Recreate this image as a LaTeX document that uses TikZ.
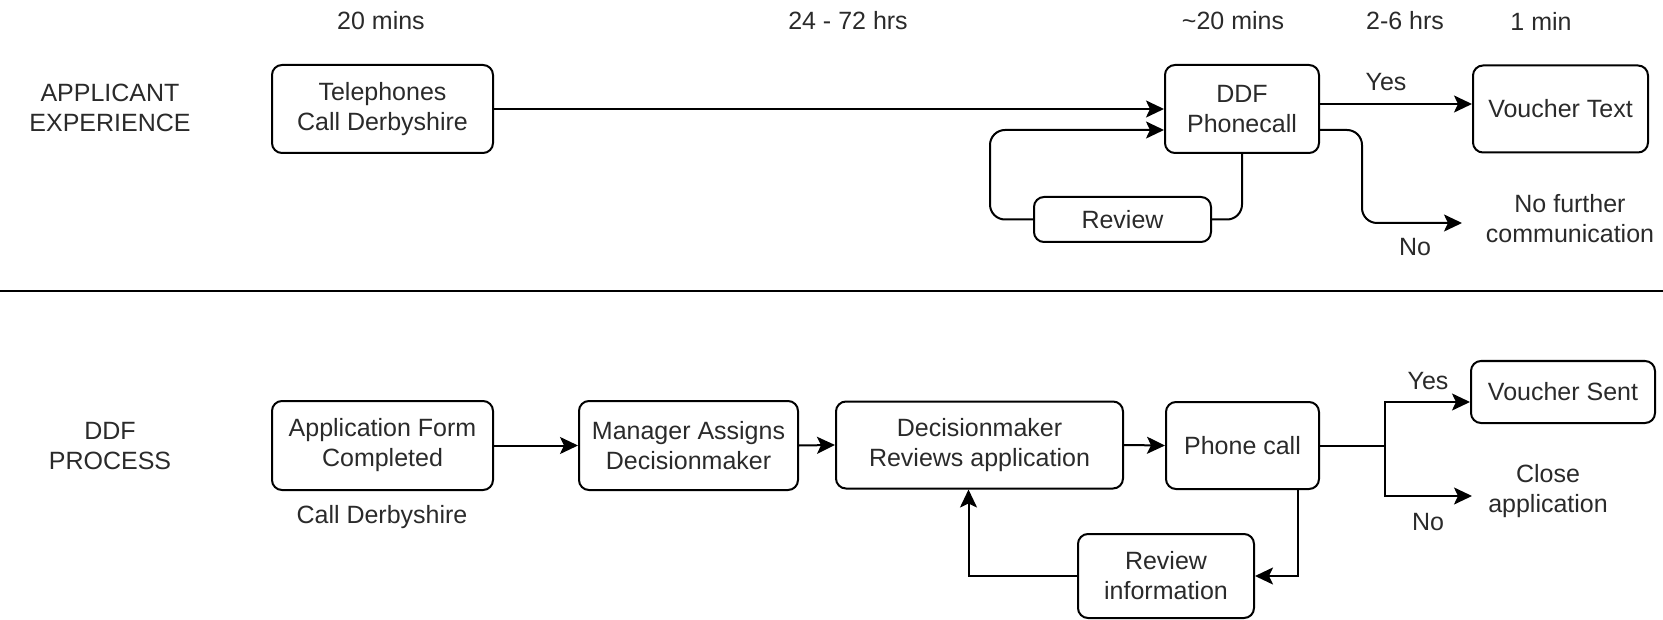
\documentclass[tikz,border=0pt]{standalone}
\usepackage{fontspec}
\setmainfont{Liberation Sans}
\usetikzlibrary{arrows.meta}
\definecolor{txt}{HTML}{2a2a2a}
\tikzset{
  box/.style={draw=black, line width=2pt, rounded corners=10pt, align=center, inner sep=0pt, text=txt},
  lbl/.style={align=center, inner sep=0pt, text=txt},
  conn/.style={line width=2pt, -{Stealth[length=18pt,width=17pt,inset=4pt]}},
  plain/.style={line width=2pt},
}
\begin{document}
\begin{tikzpicture}[x=1pt,y=-1pt,font=\fontsize{25}{30}\selectfont]
\useasboundingbox (0,0) rectangle (1663,620);

% time labels
\node[lbl] (t1) at (381,21) {20 mins};
\node[lbl] (t2) at (848,21) {24 - 72 hrs};
\node[lbl] (t3) at (1233,21) {\textasciitilde20 mins};
\node[lbl] (t4) at (1405,21) {2-6 hrs};
\node[lbl] (t5) at (1541,21) {1 min};

% row labels
\node[lbl] (rowA) at (110,108) {APPLICANT\\EXPERIENCE};
\node[lbl] (rowB) at (110,446) {DDF\\PROCESS};

% top row
\node[box, minimum width=221pt, minimum height=88pt] (tel) at (382.5,109) {Telephones\\Call Derbyshire};
\node[box, minimum width=154pt, minimum height=88pt] (ddf) at (1242,109) {DDF\\Phonecall};
\node[box, minimum width=175pt, minimum height=87pt] (vt) at (1560.5,109) {Voucher Text};
\node[box, minimum width=177pt, minimum height=45pt] (rev) at (1122.5,219.5) {Review};
\node[lbl] (nfc) at (1570,219) {No further\\communication};
\coordinate (loopL) at (990,130);
\coordinate (nfcin) at (1462,223);

\draw[conn] (tel.east) -- (ddf.west);
\draw[conn, rounded corners=15pt] (rev.west) -| (loopL) -- (loopL -| ddf.west);
\draw[plain, rounded corners=15pt] (rev.east) -| (ddf.south);
\draw[conn] ([yshift=5pt]ddf.east) -- ([yshift=5pt]ddf.east -| vt.west);
\draw[conn, rounded corners=15pt] ([yshift=-21pt]ddf.east) -- ++(42,0) |- (nfcin);
\node[lbl] (yesA) at (1386,82) {Yes};
\node[lbl] (noA) at (1415,247) {No};

% separator
\coordinate (sepL) at (0,291);
\coordinate (sepR) at (1663,291);
\draw[line width=2.2pt] (sepL) -- (sepR);

% bottom row
\node[box, minimum width=221pt, minimum height=89pt] (app) at (382.5,445.5) {Application Form\\Completed};
\node[lbl] (cd) at (382,517) {Call Derbyshire};
\node[box, minimum width=219pt, minimum height=89pt] (mgr) at (688.5,445.5) {Manager Assigns\\Decisionmaker};
\node[box, minimum width=287pt, minimum height=87pt] (dm) at (979.5,445) {Decisionmaker\\Reviews application};
\node[box, minimum width=153pt, minimum height=87pt] (pc) at (1242.5,445.5) {Phone call};
\node[box, minimum width=176pt, minimum height=84pt] (ri) at (1166,576) {Review\\information};
\node[box, minimum width=184pt, minimum height=62pt] (vs) at (1563,392) {Voucher Sent};
\node[lbl] (close) at (1548,491) {Close\\application};
\coordinate (br) at (1385,445.5);
\coordinate (clin) at (1472,496);

\draw[conn] (app.east) -- (mgr.west);
\draw[conn] (mgr.east) -- (dm.west);
\draw[conn] (dm.east) -- (pc.west);
\draw[plain] (pc.east) -- (br);
\draw[conn] (br) |- ([yshift=-10pt]vs.west);
\draw[conn] (br) |- (clin);
\draw[conn] ([xshift=55pt]pc.south) |- (ri.east);
\draw[conn] (ri.west) -| ([xshift=-11pt]dm.south);
\node[lbl] (yesB) at (1428,381) {Yes};
\node[lbl] (noB) at (1428,522) {No};
\end{tikzpicture}
\end{document}
